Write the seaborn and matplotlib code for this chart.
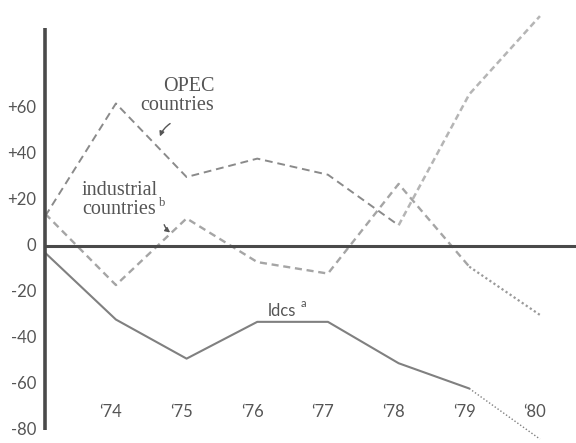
import matplotlib
matplotlib.use("Agg")
import matplotlib.pyplot as plt
import seaborn as sns
import pandas as pd

# ---- data ----
years = [73, 74, 75, 76, 77, 78, 79, 80]
year_labels = ["\u201874", "\u201875", "\u201876", "\u201877", "\u201878", "\u201879", "\u201880"]
opec = [13, 62, 30, 38, 31, 9, 66, 100]
industrial = [14, -17, 12, -7, -12, 27, -9, -30]
ldcs = [-3, -32, -49, -33, -33, -51, -62, -84]
yticks = [60, 40, 20, 0, -20, -40, -60, -80]
ytick_labels = ["+60", "+40", "+20", "0", "-20", "-40", "-60", "-80"]

sns.set_theme(style="white")
plt.rcParams["font.family"] = ["Lato", "DejaVu Sans"]

fig = plt.figure(figsize=(5.76, 4.43), dpi=100)
ax = fig.add_axes([0, 0, 1, 1])
ax.set_xlim(72.36, 80.51)
ax.set_ylim(-85.7, 107)
for s in ax.spines.values():
    s.set_visible(False)
ax.set_xticks([])
ax.set_yticks([])

df = pd.DataFrame({"year": years, "opec": opec, "industrial": industrial, "ldcs": ldcs})
main = df[df.year <= 79]
proj = df[df.year >= 79]

# OPEC
sns.lineplot(data=df[df.year <= 78], x="year", y="opec", ax=ax, color="#8a8a8a", lw=1.4,
             linestyle=(0, (4, 2.5)))
sns.lineplot(data=df[df.year >= 78], x="year", y="opec", ax=ax, color="#b5b5b5", lw=1.8,
             linestyle=(0, (2.5, 1.5)))
# industrial
sns.lineplot(data=main, x="year", y="industrial", ax=ax, color="#a5a5a5", lw=1.7,
             linestyle=(0, (3, 2)))
sns.lineplot(data=proj, x="year", y="industrial", ax=ax, color="#9a9a9a", lw=1.6,
             linestyle=(0, (1, 1.2)))
# ldcs
sns.lineplot(data=main, x="year", y="ldcs", ax=ax, color="#808080", lw=1.5)
sns.lineplot(data=proj, x="year", y="ldcs", ax=ax, color="#808080", lw=1.0,
             linestyle=(0, (1, 1.5)))

# axes lines
ax.vlines(73, -80, 95, color="#4a4a4a", lw=2.6, zorder=5)
ax.hlines(0, 73, 80.6, color="#4a4a4a", lw=2.2, zorder=5)

txt = "#555555"
for v, lab in zip(yticks, ytick_labels):
    ax.text(72.87, v, lab, ha="right", va="center", fontsize=12, color=txt)
for yr, lab in zip(years[1:], year_labels):
    ax.text(yr - 0.07, -72, lab, ha="center", va="center", fontsize=12, color=txt)

serif = ["Liberation Serif", "DejaVu Serif"]
ax.text(75.39, 65.2, "OPEC\ncountries", ha="right", va="center", ma="right",
        fontsize=14.5, color=txt, family=serif, linespacing=1.05)
ax.annotate("", xy=(74.61, 46.5), xytext=(74.80, 53.9),
            arrowprops=dict(arrowstyle="-|>", connectionstyle="arc3,rad=0.2",
                            color="#555555", lw=1, mutation_scale=7))
ax.text(73.52, 20, "industrial\ncountries", ha="left", va="center",
        fontsize=14.5, color=txt, family=serif, linespacing=0.95)
ax.text(74.61, 18.7, "b", ha="left", va="center", fontsize=9, color=txt, family=serif)
ax.annotate("", xy=(74.80, 5.2), xytext=(74.67, 10.4),
            arrowprops=dict(arrowstyle="-|>", connectionstyle="arc3,rad=0.2",
                            color="#555555", lw=1, mutation_scale=7))
ax.text(76.15, -28.3, "ldcs", ha="left", va="center", fontsize=12, color=txt)
ax.text(76.61, -25.2, "a", ha="left", va="center", fontsize=8, color=txt)

if ax.get_legend():
    ax.get_legend().remove()
ax.set_xlabel("")
ax.set_ylabel("")
fig.savefig("out.png", dpi=100)
